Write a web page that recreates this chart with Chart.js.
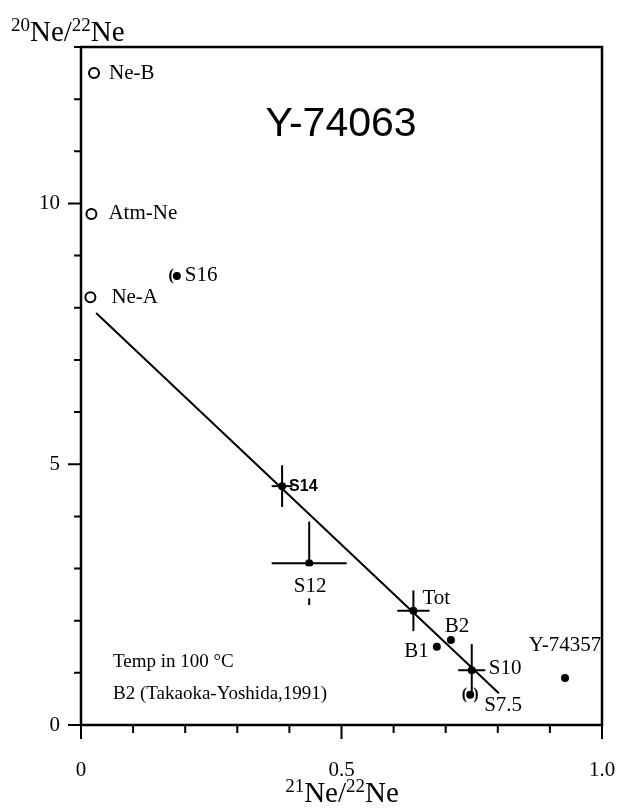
<!DOCTYPE html>
<html>
<head>
<meta charset="utf-8">
<script src="https://cdn.jsdelivr.net/npm/chart.js@4.4.0/dist/chart.umd.min.js"></script>
<style>
  html, body { margin: 0; padding: 0; background: #fff; }
</style>
</head>
<body>
<canvas id="neChart" width="621" height="810"></canvas>
<script>
// reference components (open circles)
var refNames = ['Ne-B', 'Atm-Ne', 'Ne-A'];
var refX = [0.025, 0.020, 0.018];
var refY = [12.5, 9.8, 8.2];

// temperature steps and others (filled dots)
var stepNames = ['S16', 'S14', 'S12', 'Tot', 'B1', 'B2', 'S10', 'S7.5', 'Y-74357'];
var stepX = [0.184, 0.386, 0.438, 0.638, 0.683, 0.710, 0.750, 0.747, 0.929];
var stepY = [8.61, 4.58, 3.10, 2.19, 1.50, 1.63, 1.05, 0.58, 0.90];

// error bars
var errNames = ['S14', 'S12', 'Tot', 'S10'];
var errX = [0.020, 0.072, 0.031, 0.026];
var errY = [0.40, 0.80, 0.39, 0.50];

// correlation line
var fitX = [0.029, 0.802];
var fitY = [7.90, 0.61];

// labelled ticks
var xTicks = [0, 0.5, 1.0];
var yTicks = [0, 5, 10];

var SERIF = '"Liberation Serif", "DejaVu Serif", serif';
var SANS = '"Liberation Sans", Arial, sans-serif';

// =========================================
// DATA BUILD
// =========================================
function toPoints(xs, ys) {
    return xs.map(function(x, i) { return { x: x, y: ys[i] }; });
}

function segment(points) {
    return {
        label: 'err',
        data: points,
        showLine: true,
        borderColor: '#000',
        borderWidth: 2,
        pointRadius: 0
    };
}

var errSets = [];
errNames.forEach(function(name, i) {
    var k = stepNames.indexOf(name);
    var x = stepX[k], y = stepY[k];
    errSets.push(segment([{ x: x - errX[i], y: y }, { x: x + errX[i], y: y }]));
    errSets.push(segment([{ x: x, y: y - errY[i] }, { x: x, y: y + errY[i] }]));
});

// label placement, pixel offsets from the point
var labelStyle = {
    'Ne-B':    { dx: 15, dy: 0, align: 'left' },
    'Atm-Ne':  { dx: 17, dy: 0, align: 'left' },
    'Ne-A':    { dx: 21, dy: 0, align: 'left' },
    'S16':     { dx: 8, dy: 0, align: 'left' },
    'S14':     { dx: 7, dy: 0, align: 'left', font: 'bold 16px ' + SANS },
    'S12':     { dx: 1, dy: 23, align: 'center', mask: true },
    'Tot':     { dx: 9, dy: -12, align: 'left' },
    'B2':      { dx: 6, dy: -14, align: 'center' },
    'B1':      { dx: -8, dy: 5, align: 'right' },
    'S10':     { dx: 17, dy: -2, align: 'left' },
    'S7.5':    { dx: 14, dy: 11, align: 'left' },
    'Y-74357': { dx: 0, dy: -33, align: 'center' }
};
var bracketed = ['S16', 'S7.5'];

// =========================================
// PLUGIN — FRAME, TICKS, TEXT
// =========================================
var decorPlugin = {
    id: 'decor',
    afterDatasetsDraw: function(chart) {
        var ctx = chart.ctx, a = chart.chartArea;
        var xs = chart.scales.x, ys = chart.scales.y;
        ctx.save();
        ctx.strokeStyle = '#000';
        ctx.fillStyle = '#000';

        // frame
        ctx.lineWidth = 2.5;
        ctx.strokeRect(a.left, a.top, a.right - a.left, a.bottom - a.top);

        // tick marks
        ctx.lineWidth = 2;
        ctx.beginPath();
        for (var v = 0; v <= 13; v++) {
            var py = ys.getPixelForValue(v);
            var ly = yTicks.indexOf(v) >= 0 ? 13 : 7;
            ctx.moveTo(a.left - ly, py);
            ctx.lineTo(a.left, py);
        }
        for (var j = 0; j <= 10; j++) {
            var px = xs.getPixelForValue(j / 10);
            var lx = (j % 5 === 0) ? 14 : 8;
            ctx.moveTo(px, a.bottom);
            ctx.lineTo(px, a.bottom + lx);
        }
        ctx.stroke();

        // point labels
        ctx.textBaseline = 'middle';
        var names = refNames.concat(stepNames);
        var xv = refX.concat(stepX), yv = refY.concat(stepY);
        names.forEach(function(name, i) {
            var st = labelStyle[name];
            if (!st) return;
            var px = xs.getPixelForValue(xv[i]) + st.dx;
            var py = ys.getPixelForValue(yv[i]) + st.dy;
            ctx.font = st.font || ('21px ' + SERIF);
            ctx.textAlign = st.align;
            if (st.mask) {
                var w = ctx.measureText(name).width;
                ctx.fillStyle = '#fff';
                ctx.fillRect(px - w / 2 - 2, py - 20, w + 4, 32);
                ctx.fillStyle = '#000';
            }
            ctx.fillText(name, px, py);
        });

        // brackets round uncertain steps
        ctx.font = 'bold 16px ' + SERIF;
        bracketed.forEach(function(name) {
            var k = stepNames.indexOf(name);
            var px = xs.getPixelForValue(stepX[k]);
            var py = ys.getPixelForValue(stepY[k]);
            ctx.textAlign = 'right';
            ctx.fillText('(', px - 3, py);
            if (name !== 'S16') {
                ctx.textAlign = 'left';
                ctx.fillText(')', px + 3, py);
            }
        });

        // title
        ctx.font = '41px ' + SANS;
        ctx.textAlign = 'center';
        ctx.fillText('Y-74063', 341, 125);

        // notes
        ctx.font = '19px ' + SERIF;
        ctx.textAlign = 'left';
        ctx.fillText('Temp in 100 \u00B0C', 113, 662);
        ctx.fillText('B2 (Takaoka-Yoshida,1991)', 113, 694);

        // axis titles with superscripts
        drawIso(ctx, ['20', 'Ne/', '22', 'Ne'], 11, 41, 'left');
        drawIso(ctx, ['21', 'Ne/', '22', 'Ne'], 342, 802, 'center');
        ctx.restore();
    }
};

function drawIso(ctx, parts, x, base, align) {
    var big = '29px ' + SERIF, small = '19px ' + SERIF;
    var widths = parts.map(function(p, i) {
        ctx.font = (i % 2 === 0) ? small : big;
        return ctx.measureText(p).width;
    });
    var total = widths.reduce(function(s, w) { return s + w; }, 0);
    var cx = align === 'center' ? x - total / 2 : x;
    ctx.textAlign = 'left';
    ctx.textBaseline = 'alphabetic';
    parts.forEach(function(p, i) {
        ctx.font = (i % 2 === 0) ? small : big;
        ctx.fillText(p, cx, (i % 2 === 0) ? base - 10 : base);
        cx += widths[i];
    });
}

// =========================================
// CHART
// =========================================
new Chart(document.getElementById('neChart'), {
    type: 'scatter',
    data: {
        datasets: [{
            label: 'correlation',
            data: toPoints(fitX, fitY),
            showLine: true,
            borderColor: '#000',
            borderWidth: 2,
            pointRadius: 0
        }].concat(errSets, [{
            label: 'components',
            data: toPoints(refX, refY),
            pointStyle: 'circle',
            pointRadius: 5,
            borderWidth: 2,
            borderColor: '#000',
            backgroundColor: '#fff'
        }, {
            label: 'steps',
            data: toPoints(stepX, stepY),
            pointStyle: 'circle',
            pointRadius: 4,
            borderWidth: 0,
            backgroundColor: '#000'
        }])
    },
    options: {
        responsive: false,
        animation: false,
        devicePixelRatio: 1,
        layout: { padding: { top: 47, right: 19, left: 0, bottom: 0 } },
        plugins: {
            legend: { display: false },
            tooltip: { enabled: false }
        },
        scales: {
            x: {
                type: 'linear',
                min: 0,
                max: 1,
                afterFit: function(scale) {
                    scale.height = 85;
                    scale.paddingLeft = 0;
                    scale.paddingRight = 0;
                },
                grid: { display: false, drawTicks: false },
                border: { display: false },
                ticks: {
                    stepSize: 0.1,
                    autoSkip: false,
                    maxRotation: 0,
                    padding: 33,
                    color: '#000',
                    font: { family: SERIF, size: 21 },
                    callback: function(v) {
                        for (var i = 0; i < xTicks.length; i++) {
                            if (Math.abs(v - xTicks[i]) < 1e-6) return i === 0 ? '0' : xTicks[i].toFixed(1);
                        }
                        return '';
                    }
                }
            },
            y: {
                type: 'linear',
                min: 0,
                max: 13,
                afterFit: function(scale) {
                    scale.width = 81;
                    scale.paddingTop = 0;
                    scale.paddingBottom = 0;
                },
                grid: { display: false, drawTicks: false },
                border: { display: false },
                ticks: {
                    stepSize: 1,
                    autoSkip: false,
                    padding: 21,
                    color: '#000',
                    font: { family: SERIF, size: 21 },
                    callback: function(v) { return yTicks.indexOf(v) >= 0 ? String(v) : ''; }
                }
            }
        }
    },
    plugins: [decorPlugin]
});
</script>
</body>
</html>
